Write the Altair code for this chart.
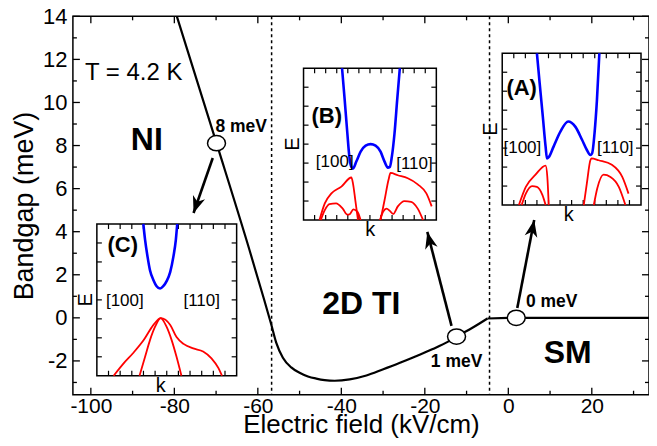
import altair as alt
import pandas as pd

FONT = "Liberation Sans"

# ---------------- main panel data ----------------
field = [-79.4, -69.9, -62.0, -58.5, -56.8, -55.6, -54.0, -52.0, -50.0, -48.0, -46.0, -44.0,
         -41.6, -38.0, -34.0, -30.1, -26.1, -22.1, -18.1, -14.1, -12.4, -8.5, -5.0, 0.0, 10.0, 20.0, 33.7]
gap = [14.0, 8.11, 3.15, 0.85, -0.30, -1.15, -1.85, -2.30, -2.55, -2.72, -2.82, -2.89,
       -2.92, -2.86, -2.68, -2.40, -2.10, -1.78, -1.45, -1.07, -0.87, -0.45, -0.03, 0.0, 0.0, 0.0, 0.0]

x_major = [-100, -80, -60, -40, -20, 0, 20]
x_minor = [-90, -70, -50, -30, -10, 10, 30]
y_major = [-2, 0, 2, 4, 6, 8, 10, 12, 14]
y_minor = [-3, -1, 1, 3, 5, 7, 9, 11, 13]

boundaries = [-56.7, -4.5]

marker_x = [-69.9, -12.4, 1.9]
marker_y = [8.11, -0.87, 0.0]
gap_labels = ["8 meV", "1 meV", "0 meV"]
gap_label_x = [-64.0, -12.4, 10.4]
gap_label_y = [8.88, -2.06, 0.72]

phase_labels = ["NI", "2D TI", "SM"]
phase_x = [-86.6, -35.2, 14.2]
phase_y = [8.25, 0.63, -1.65]

temp_label = ["T = 4.2 K"]
temp_x = [-101.4]
temp_y = [11.36]

arrow_x0 = [-70.8, -13.6, 2.15]
arrow_y0 = [7.42, -0.37, 0.46]
arrow_x1 = [-75.4, -19.4, 6.2]
arrow_y1 = [4.87, 3.99, 4.54]
arrow_angle = [199, 346, 11]

# ---------------- inset data (k, E in arbitrary units) ----------------
C_cb_k = [-0.335, -0.31, -0.275, -0.24, -0.19, -0.145, -0.095, -0.05, 0.0, 0.05, 0.095, 0.13, 0.15]
C_cb_E = [1.0, 0.79, 0.57, 0.39, 0.26, 0.18, 0.15, 0.18, 0.25, 0.37, 0.57, 0.79, 1.0]
C_vb1_k = [-0.39, -0.31, -0.24, -0.165, -0.086, -0.005, 0.07, 0.14, 0.21]
C_vb1_E = [-1.0, -0.75, -0.53, -0.35, -0.24, -0.35, -0.53, -0.75, -1.0]
C_vb2_k = [-0.76, -0.62, -0.48, -0.33, -0.19, -0.086, 0.05, 0.14, 0.24, 0.38, 0.52, 0.64, 0.74, 0.79]
C_vb2_E = [-1.0, -0.84, -0.70, -0.53, -0.33, -0.24, -0.33, -0.49, -0.58, -0.64, -0.68, -0.77, -0.90, -1.0]

B_cb_k = [-0.42, -0.38, -0.34, -0.31, -0.28, -0.255, -0.205, -0.14, -0.065, 0.01, 0.085, 0.16, 0.22, 0.27, 0.30, 0.33, 0.37, 0.41, 0.45]
B_cb_E = [1.0, 0.58, 0.14, -0.165, -0.30, -0.32, -0.23, -0.10, -0.02, 0.0, -0.02, -0.10, -0.23, -0.31, -0.30, -0.165, 0.14, 0.58, 1.0]
B_vb1_k = [-0.76, -0.68, -0.58, -0.43, -0.28, -0.255, -0.22, -0.18]
B_vb1_E = [-1.0, -0.78, -0.65, -0.56, -0.44, -0.52, -0.74, -1.0]
B_vb2_k = [0.16, 0.22, 0.28, 0.31, 0.42, 0.57, 0.72, 0.85, 0.93]
B_vb2_E = [-1.0, -0.74, -0.47, -0.38, -0.41, -0.45, -0.53, -0.65, -0.82]
B_vb3_k = [-0.74, -0.68, -0.61, -0.51, -0.41, -0.34, -0.30, -0.25, -0.19, -0.14]
B_vb3_E = [-1.0, -0.87, -0.79, -0.78, -0.85, -0.93, -0.92, -0.86, -0.89, -1.0]
B_vb4_k = [0.15, 0.20, 0.25, 0.30, 0.35, 0.42, 0.52, 0.62, 0.72, 0.80]
B_vb4_E = [-1.0, -0.89, -0.85, -0.88, -0.92, -0.82, -0.75, -0.76, -0.85, -1.0]

A_cb_k = [-0.50, -0.46, -0.415, -0.375, -0.355, -0.33, -0.26, -0.16, -0.05, 0.055, 0.15, 0.22, 0.27, 0.295, 0.33, 0.365, 0.40]
A_cb_E = [1.0, 0.60, 0.165, -0.23, -0.385, -0.37, -0.23, -0.03, 0.10, 0.03, -0.14, -0.275, -0.34, -0.32, -0.055, 0.385, 1.0]
A_vb1_k = [-0.76, -0.66, -0.52, -0.375, -0.35, -0.33]
A_vb1_E = [-1.0, -0.76, -0.60, -0.48, -0.63, -1.0]
A_vb2_k = [-0.72, -0.66, -0.57, -0.50, -0.42, -0.375]
A_vb2_E = [-1.0, -0.85, -0.75, -0.76, -0.87, -1.0]
A_vb3_k = [0.175, 0.22, 0.27, 0.285, 0.39, 0.58, 0.73, 0.82]
A_vb3_E = [-1.0, -0.71, -0.41, -0.385, -0.41, -0.47, -0.63, -0.85]
A_vb4_k = [0.32, 0.37, 0.46, 0.56, 0.68, 0.775]
A_vb4_E = [-1.0, -0.78, -0.60, -0.63, -0.76, -1.0]

inset_k_ticks = [-5/6, -4/6, -3/6, -2/6, -1/6, 0, 1/6, 2/6, 3/6, 4/6, 5/6]
inset_E_ticks = [-0.75, -0.5, -0.25, 0, 0.25, 0.5, 0.75]

# ---------------- layout ----------------
W, H = 577, 379
XDOM = [-104.3, 33.7]
YDOM = [-3.57, 14.0]
xs = alt.Scale(domain=XDOM, range=[0, W], nice=False, zero=False)
ys = alt.Scale(domain=YDOM, range=[H, 0], nice=False, zero=False)

ELLIPSE = "M-1,0A1,0.85,0,1,1,1,0A1,0.85,0,1,1,-1,0Z"
HEAD = "M0,0L0.8,2.1L0,1.5L-0.8,2.1Z"

X = lambda f: alt.X(f, scale=xs, axis=None)
Y = lambda f: alt.Y(f, scale=ys, axis=None)

layers = []

# main curve (carries the axes): curved part and flat part drawn separately so the kink stays sharp
curve_base = alt.Chart(pd.DataFrame({"field": field, "gap": gap}))
layers.append(curve_base.transform_filter("datum.field <= -5").mark_line(
    color="black", strokeWidth=2.2, interpolate="monotone").encode(
    x=alt.X("field:Q", scale=xs, title="Electric field (kV/cm)",
            axis=alt.Axis(values=x_major, ticks=False, domain=False, grid=False,
                          labelExpr="'' + datum.value", labelFontSize=21, labelFont=FONT,
                          labelColor="black", labelPadding=1, labelFlush=False, labelOverlap=False,
                          titleFontSize=26, titleFont=FONT, titleFontWeight="normal",
                          titleColor="black", titleBaseline="alphabetic", titleY=38)),
    y=alt.Y("gap:Q", scale=ys, title="Bandgap (meV)",
            axis=alt.Axis(values=y_major, ticks=False, domain=False, grid=False,
                          labelExpr="'' + datum.value", labelFontSize=22, labelFont=FONT,
                          labelColor="black", labelPadding=6, labelFlush=False, labelOverlap=False,
                          titleFontSize=27, titleFont=FONT, titleFontWeight="normal",
                          titleColor="black", titleBaseline="alphabetic", titleX=-40)),
))
layers.append(curve_base.transform_filter("datum.field >= -5").mark_line(
    color="black", strokeWidth=2.2).encode(x=X("field:Q"), y=Y("gap:Q")))

# inward ticks on all four sides
def add_xticks(vals, length):
    bot = pd.DataFrame({"v": vals, "e": YDOM[0]})
    top = pd.DataFrame({"v": vals, "e": YDOM[1]})
    layers.append(alt.Chart(bot).mark_rule(color="black", strokeWidth=1.3, y2Offset=-length).encode(
        x=X("v:Q"), y=Y("e:Q"), y2="e:Q"))
    layers.append(alt.Chart(top).mark_rule(color="black", strokeWidth=1.3, y2Offset=length).encode(
        x=X("v:Q"), y=Y("e:Q"), y2="e:Q"))

def add_yticks(vals, length):
    lft = pd.DataFrame({"v": vals, "e": XDOM[0]})
    rgt = pd.DataFrame({"v": vals, "e": XDOM[1]})
    layers.append(alt.Chart(lft).mark_rule(color="black", strokeWidth=1.3, x2Offset=length).encode(
        y=Y("v:Q"), x=X("e:Q"), x2="e:Q"))
    layers.append(alt.Chart(rgt).mark_rule(color="black", strokeWidth=1.3, x2Offset=-length).encode(
        y=Y("v:Q"), x=X("e:Q"), x2="e:Q"))

add_xticks(x_major, 7)
add_xticks(x_minor, 4)
add_yticks(y_major, 7)
add_yticks(y_minor, 4)

layers.append(alt.Chart(pd.DataFrame({"v": boundaries})).mark_rule(
    color="black", strokeWidth=1.5, strokeDash=[3, 3]).encode(x=X("v:Q")))

arrows_df = pd.DataFrame({"x0": arrow_x0, "y0": arrow_y0, "x1": arrow_x1, "y1": arrow_y1, "ang": arrow_angle})
layers.append(alt.Chart(arrows_df).mark_rule(color="black", strokeWidth=2.6).encode(
    x=X("x0:Q"), y=Y("y0:Q"), x2="x1:Q", y2="y1:Q"))
layers.append(alt.Chart(arrows_df).mark_point(shape=HEAD, size=256, filled=True, color="black", opacity=1).encode(
    x=X("x1:Q"), y=Y("y1:Q"), angle=alt.Angle("ang:Q", scale=None)))

layers.append(alt.Chart(pd.DataFrame({"x": marker_x, "y": marker_y})).mark_point(
    shape=ELLIPSE, size=324, filled=True, fill="white", stroke="black", strokeWidth=1.5, opacity=1).encode(
    x=X("x:Q"), y=Y("y:Q")))

layers.append(alt.Chart(pd.DataFrame({"x": gap_label_x, "y": gap_label_y, "t": gap_labels})).mark_text(
    font=FONT, fontSize=17.5, fontWeight="bold", color="black", align="center", baseline="middle").encode(
    x=X("x:Q"), y=Y("y:Q"), text="t:N"))
layers.append(alt.Chart(pd.DataFrame({"x": phase_x, "y": phase_y, "t": phase_labels})).mark_text(
    font=FONT, fontSize=32, fontWeight="bold", color="black", align="center", baseline="middle").encode(
    x=X("x:Q"), y=Y("y:Q"), text="t:N"))
layers.append(alt.Chart(pd.DataFrame({"x": temp_x, "y": temp_y, "t": temp_label})).mark_text(
    font=FONT, fontSize=24, color="black", align="left", baseline="middle").encode(
    x=X("x:Q"), y=Y("y:Q"), text="t:N"))


def add_inset(name, bands, label_pos, l100, l110, kpos, xr, yr):
    xsc = alt.Scale(domain=[-1, 1], range=xr, nice=False, zero=False)
    ysc = alt.Scale(domain=[-1, 1], range=yr, nice=False, zero=False)
    IX = lambda f: alt.X(f, scale=xsc, axis=None)
    IY = lambda f: alt.Y(f, scale=ysc, axis=None)
    layers.append(alt.Chart(pd.DataFrame({"k0": [-1], "k1": [1], "e0": [-1], "e1": [1]})).mark_rect(
        fill="white", stroke="black", strokeWidth=1.5).encode(x=IX("k0:Q"), x2="k1:Q", y=IY("e0:Q"), y2="e1:Q"))
    kt = pd.DataFrame({"k": inset_k_ticks, "top": 1.0, "bot": -1.0})
    et = pd.DataFrame({"e": inset_E_ticks, "lft": -1.0, "rgt": 1.0})
    layers.append(alt.Chart(kt).mark_rule(color="black", strokeWidth=1.2, y2Offset=5).encode(x=IX("k:Q"), y=IY("top:Q"), y2="top:Q"))
    layers.append(alt.Chart(kt).mark_rule(color="black", strokeWidth=1.2, y2Offset=-5).encode(x=IX("k:Q"), y=IY("bot:Q"), y2="bot:Q"))
    layers.append(alt.Chart(et).mark_rule(color="black", strokeWidth=1.2, x2Offset=5).encode(y=IY("e:Q"), x=IX("lft:Q"), x2="lft:Q"))
    layers.append(alt.Chart(et).mark_rule(color="black", strokeWidth=1.2, x2Offset=-5).encode(y=IY("e:Q"), x=IX("rgt:Q"), x2="rgt:Q"))
    rows = []
    for bi, (kind, ks, es) in enumerate(bands):
        for i, (k, e) in enumerate(zip(ks, es)):
            rows.append({"k": k, "E": e, "band": f"{name}{bi}", "kind": kind, "i": i})
    base = alt.Chart(pd.DataFrame(rows))
    layers.append(base.transform_filter("datum.kind == 'vb'").mark_line(
        color="#ff0000", strokeWidth=1.8, interpolate="monotone").encode(
        x=IX("k:Q"), y=IY("E:Q"), detail="band:N", order="i:Q"))
    layers.append(base.transform_filter("datum.kind == 'cb'").mark_line(
        color="#0000ff", strokeWidth=2.6, interpolate="monotone").encode(
        x=IX("k:Q"), y=IY("E:Q"), detail="band:N", order="i:Q"))
    lab = pd.DataFrame({"k": [label_pos[0]], "E": [label_pos[1]], "t": [f"({name})"]})
    layers.append(alt.Chart(lab).mark_text(font=FONT, fontSize=22, fontWeight="bold", color="black",
                                           align="center", baseline="middle").encode(x=IX("k:Q"), y=IY("E:Q"), text="t:N"))
    dirs = pd.DataFrame({"k": [l100[0], l110[0]], "E": [l100[1], l110[1]], "t": ["[100]", "[110]"]})
    layers.append(alt.Chart(dirs).mark_text(font=FONT, fontSize=17, color="black",
                                            align="center", baseline="middle").encode(x=IX("k:Q"), y=IY("E:Q"), text="t:N"))
    kl = pd.DataFrame({"k": [kpos], "E": [-1.0], "t": ["k"]})
    layers.append(alt.Chart(kl).mark_text(font=FONT, fontSize=20, color="black",
                                          align="center", baseline="top").encode(x=IX("k:Q"), y=IY("E:Q"), text="t:N"))
    el = pd.DataFrame({"k": [-1.0], "E": [0.0], "t": ["E"]})
    layers.append(alt.Chart(el).mark_text(font=FONT, fontSize=20, color="black", angle=270,
                                          align="center", baseline="bottom", dy=-1).encode(x=IX("k:Q"), y=IY("E:Q"), text="t:N"))


add_inset("C", [("cb", C_cb_k, C_cb_E), ("vb", C_vb1_k, C_vb1_E), ("vb", C_vb2_k, C_vb2_E)],
          (-0.63, 0.72), (-0.60, -0.01), (0.50, -0.01), -0.086, [24, 164], [360, 208])
add_inset("B", [("cb", B_cb_k, B_cb_E), ("vb", B_vb1_k, B_vb1_E), ("vb", B_vb2_k, B_vb2_E),
                ("vb", B_vb3_k, B_vb3_E), ("vb", B_vb4_k, B_vb4_E)],
          (-0.65, 0.37), (-0.53, -0.24), (0.67, -0.26), 0.005, [231, 364], [204, 52])
add_inset("A", [("cb", A_cb_k, A_cb_E), ("vb", A_vb1_k, A_vb1_E), ("vb", A_vb2_k, A_vb2_E),
                ("vb", A_vb3_k, A_vb3_E), ("vb", A_vb4_k, A_vb4_E)],
          (-0.72, 0.54), (-0.71, -0.25), (0.63, -0.25), -0.04, [430, 569], [189, 37])

chart = alt.layer(*layers).resolve_scale(
    x="independent", y="independent"
).properties(
    width=W, height=H,
    autosize=alt.AutoSizeParams(type="none"),
    padding={"left": 65, "top": 8, "right": 0, "bottom": 43},
).configure(font=FONT, view=alt.ViewConfig(stroke="black", strokeWidth=1.5))

chart.save("out.html", embed_options={"renderer": "svg", "actions": False})
